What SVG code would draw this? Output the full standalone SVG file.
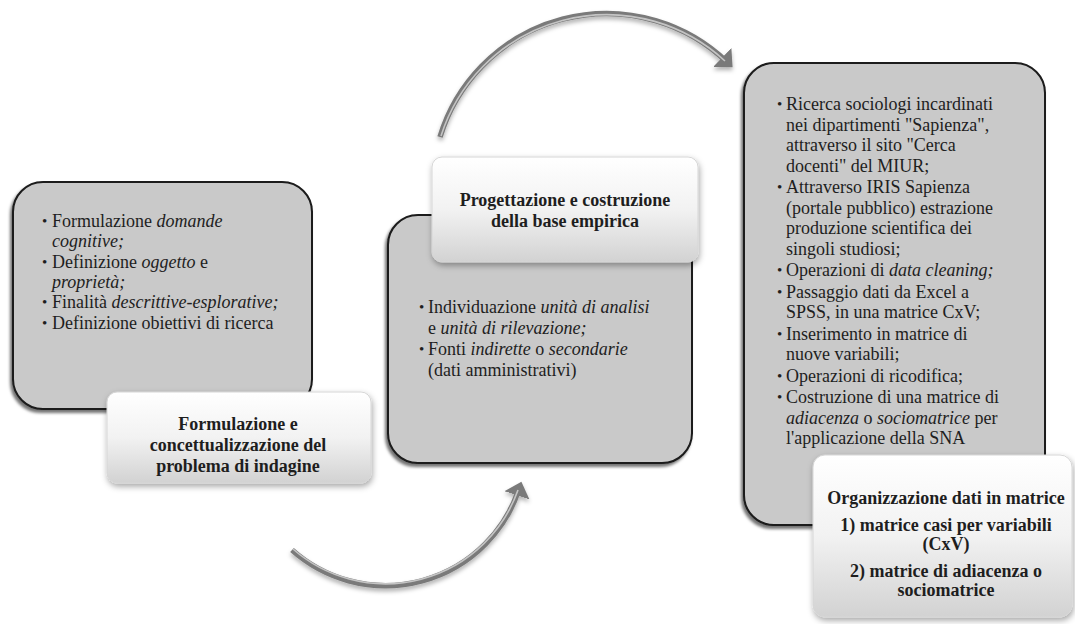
<svg xmlns="http://www.w3.org/2000/svg" width="1075" height="624" viewBox="0 0 1075 624">
<defs>
<style>
.box{fill:#c9c9c9;stroke:#1a1a1a;stroke-width:2;filter:url(#shBox)}
.lbl{fill:url(#gLbl);stroke:#d6d6d6;stroke-width:1;filter:url(#shLbl)}
.t{font-family:"Liberation Serif","Times New Roman",serif;font-size:18px;fill:#1e1e1e}
.b{font-family:"Liberation Serif","Times New Roman",serif;font-size:18px;font-weight:bold;fill:#1e1e1e;text-anchor:middle}
.bul{font-family:"Liberation Serif",serif;font-size:15px;fill:#1e1e1e}
.i{font-style:italic}
.tube{fill:none;stroke:#7a7a7a;stroke-width:5.5;stroke-linecap:butt;filter:url(#shArc)}
.hl{fill:none;stroke:#c4c4c4;stroke-width:1.6}
</style>
<linearGradient id="gLbl" x1="0" y1="0" x2="0" y2="1">
<stop offset="0" stop-color="#ffffff"/>
<stop offset="0.5" stop-color="#f2f2f2"/>
<stop offset="1" stop-color="#d2d2d2"/>
</linearGradient>
<filter id="shBox" x="-10%" y="-10%" width="120%" height="120%">
<feDropShadow dx="-2" dy="3" stdDeviation="1.5" flood-color="#000" flood-opacity="0.55"/>
</filter>
<filter id="shLbl" x="-10%" y="-10%" width="120%" height="125%">
<feDropShadow dx="1" dy="3" stdDeviation="3" flood-color="#000" flood-opacity="0.35"/>
</filter>
<filter id="shArc" x="-20%" y="-20%" width="140%" height="140%">
<feDropShadow dx="0" dy="3" stdDeviation="2" flood-color="#000" flood-opacity="0.3"/>
</filter>
<marker id="ah" markerWidth="6" markerHeight="6" refX="1.2" refY="3" orient="auto" markerUnits="strokeWidth">
<path d="M0,0.6 L2.6,3 L0,5.4 Z" fill="#7a7a7a"/>
</marker>
</defs>

<g id="connectors">
<path class="tube" d="M440,137 A174,174 0 0 1 727,62" marker-end="url(#ah)"/>
<path class="hl" d="M441,136 A174,174 0 0 1 725,61"/>
<path class="tube" d="M292,550 A140.5,140.5 0 0 0 519,489" marker-end="url(#ah)"/>
<path class="hl" d="M293,549 A140.5,140.5 0 0 0 518,490"/>
</g>

<g id="node1">
<rect class="box" x="13" y="182" width="299" height="227" rx="30"/>
<text class="bul" x="42" y="226">•</text>
<text class="t" x="52" y="227">Formulazione <tspan class="i">domande</tspan></text>
<text class="t i" x="52" y="247">cognitive;</text>
<text class="bul" x="42" y="267">•</text>
<text class="t" x="52" y="268">Definizione <tspan class="i">oggetto</tspan> e</text>
<text class="t i" x="52" y="288">proprietà;</text>
<text class="bul" x="42" y="307">•</text>
<text class="t" x="52" y="308">Finalità <tspan class="i">descrittive-esplorative;</tspan></text>
<text class="bul" x="42" y="328">•</text>
<text class="t" x="52" y="329">Definizione obiettivi di ricerca</text>
</g>
<g id="label1">
<rect class="lbl" x="107" y="392" width="264" height="91" rx="10"/>
<text class="b" x="238" y="430">Formulazione e</text>
<text class="b" x="238" y="451">concettualizzazione del</text>
<text class="b" x="238" y="472">problema di indagine</text>
</g>

<g id="node2">
<rect class="box" x="388" y="215" width="304" height="248" rx="30"/>
<text class="bul" x="419" y="312">•</text>
<text class="t" x="428" y="313">Individuazione  <tspan class="i">unità di analisi</tspan></text>
<text class="t" x="428" y="333.5">e <tspan class="i">unità di rilevazione;</tspan></text>
<text class="bul" x="419" y="354">•</text>
<text class="t" x="428" y="355">Fonti <tspan class="i">indirette</tspan> o <tspan class="i">secondarie</tspan></text>
<text class="t" x="428" y="375.5">(dati amministrativi)</text>
</g>
<g id="label2">
<rect class="lbl" x="432" y="157" width="266" height="105" rx="10"/>
<text class="b" x="565" y="206">Progettazione e costruzione</text>
<text class="b" x="565" y="227">della base empirica</text>
</g>

<g id="node3">
<rect class="box" x="744" y="63" width="301" height="462" rx="30"/>
<text class="bul" x="777" y="109">•</text>
<text class="t" x="786" y="110">Ricerca sociologi incardinati</text>
<text class="t" x="786" y="130.5">nei dipartimenti "Sapienza",</text>
<text class="t" x="786" y="151">attraverso il sito "Cerca</text>
<text class="t" x="786" y="171.5">docenti" del MIUR;</text>
<text class="bul" x="777" y="192">•</text>
<text class="t" x="786" y="193">Attraverso IRIS Sapienza</text>
<text class="t" x="786" y="213.5">(portale pubblico) estrazione</text>
<text class="t" x="786" y="234">produzione scientifica dei</text>
<text class="t" x="786" y="254.5">singoli studiosi;</text>
<text class="bul" x="777" y="275">•</text>
<text class="t" x="786" y="276">Operazioni di <tspan class="i">data cleaning;</tspan></text>
<text class="bul" x="777" y="296.5">•</text>
<text class="t" x="786" y="297.5">Passaggio dati da Excel a</text>
<text class="t" x="786" y="318">SPSS, in una matrice CxV;</text>
<text class="bul" x="777" y="338.5">•</text>
<text class="t" x="786" y="339.5">Inserimento in matrice di</text>
<text class="t" x="786" y="360">nuove variabili;</text>
<text class="bul" x="777" y="380.5">•</text>
<text class="t" x="786" y="381.5">Operazioni di ricodifica;</text>
<text class="bul" x="777" y="402">•</text>
<text class="t" x="786" y="403">Costruzione di una matrice di</text>
<text class="t" x="786" y="423.5"><tspan class="i">adiacenza</tspan> o <tspan class="i">sociomatrice</tspan> per</text>
<text class="t" x="786" y="444">l'applicazione della SNA</text>
</g>
<g id="label3">
<rect class="lbl" x="813" y="455" width="259" height="162" rx="12"/>
<text class="b" x="946" y="504">Organizzazione dati in matrice</text>
<text class="b" x="946" y="531">1) matrice casi per variabili</text>
<text class="b" x="946" y="550">(CxV)</text>
<text class="b" x="946" y="577">2) matrice di adiacenza o</text>
<text class="b" x="946" y="596">sociomatrice</text>
</g>
</svg>
